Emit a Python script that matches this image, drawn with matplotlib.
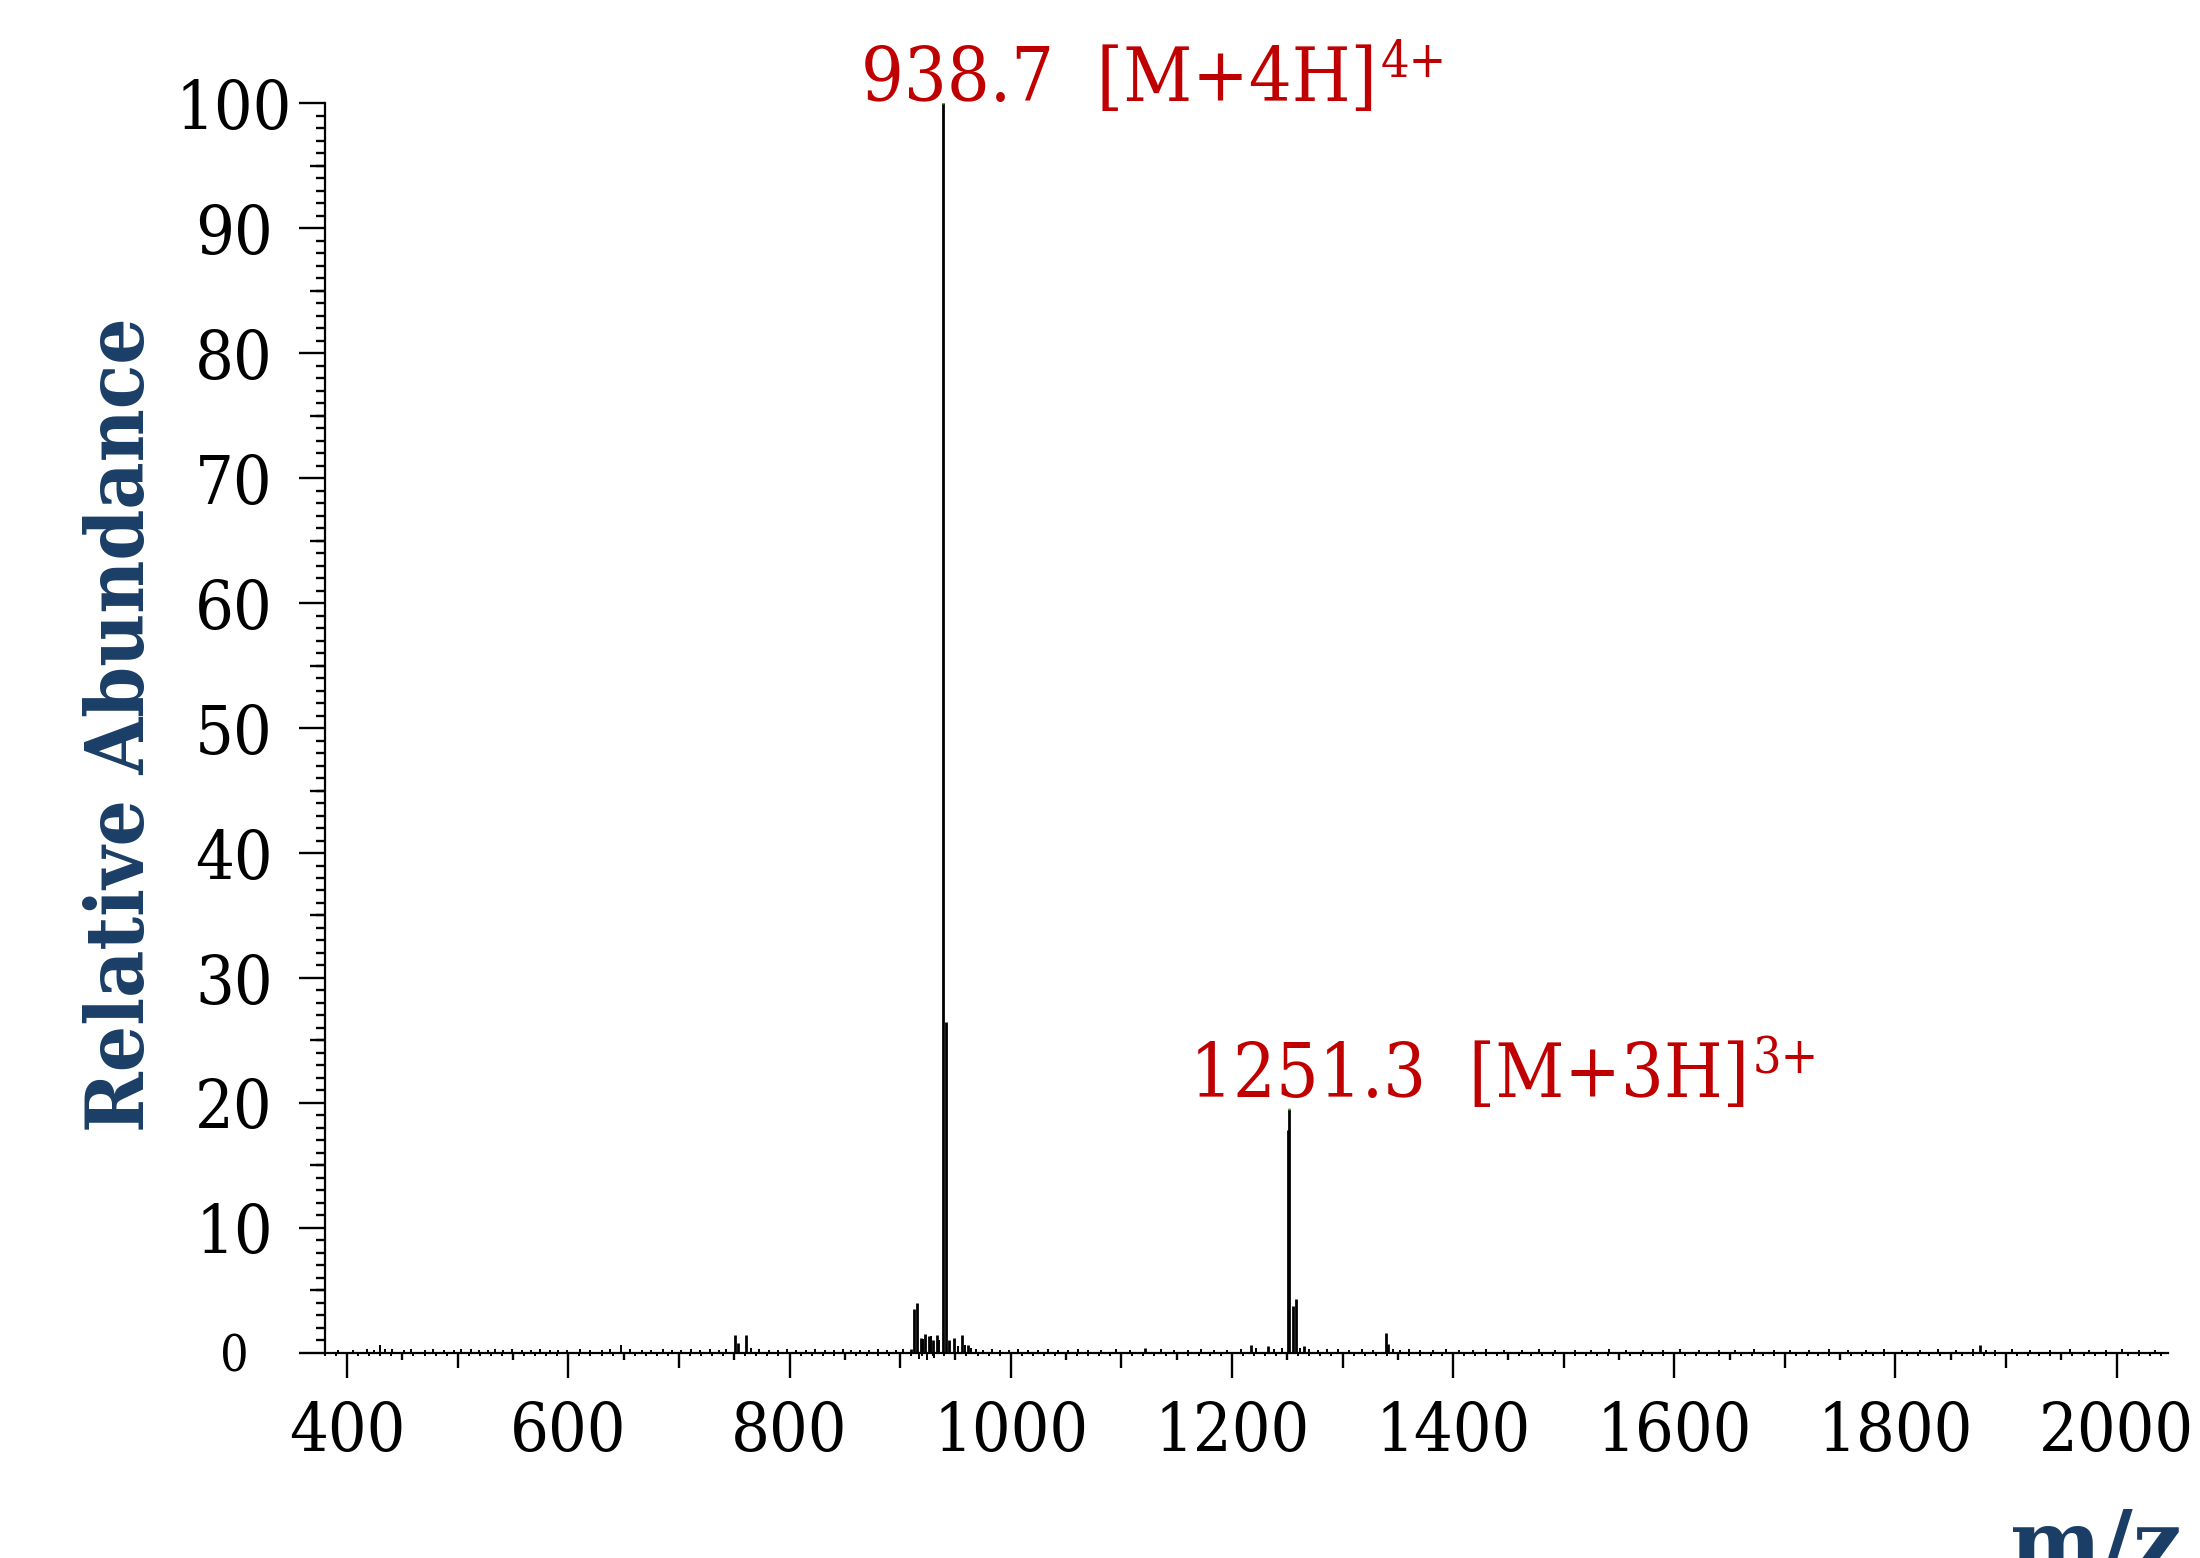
import matplotlib
matplotlib.use('Agg')
import matplotlib.pyplot as plt

plt.rcParams['font.family'] = ['DejaVu Serif', 'DejaVu Sans']
plt.rcParams['font.stretch'] = 'condensed'

# main peaks (m/z, relative abundance)
peak_mz = [750.5, 753.0, 760.3, 909.8, 912.4, 915.3, 919.0, 922.5, 926.0, 929.5,
           933.0, 938.7, 941.4, 944.0, 949.0, 956.2, 961.0, 1121.8, 1217.0, 1233.0,
           1250.8, 1251.3, 1255.1, 1257.8, 1265.0, 1339.3, 1341.5, 1876.5]
peak_int = [1.4, 0.8, 1.4, 0.3, 3.5, 4.0, 1.2, 1.5, 1.3, 1.0,
            1.4, 100.0, 26.5, 1.0, 1.2, 1.4, 0.6, 0.4, 0.6, 0.5,
            17.8, 19.5, 3.7, 4.3, 0.5, 1.6, 0.7, 0.6]

# baseline noise
noise_mz = [392, 405, 418, 424, 429.6, 434, 441, 451, 458, 470, 478, 488, 497, 503,
            512, 519, 527, 534, 541, 549, 558, 566, 574, 583, 591, 599, 611, 620,
            630, 638, 648, 656, 667, 675, 686, 694, 702, 711, 719, 728, 736, 743,
            765, 772, 781, 790, 798, 806, 815, 823, 832, 840, 848, 856, 864, 872,
            880, 888, 896, 903, 917.5, 920.5, 924.0, 927.5, 931.0, 935.5, 952, 958.5,
            964, 969, 975, 983, 990, 998, 1007, 1016, 1025, 1034, 1043, 1052, 1061,
            1070, 1082, 1095, 1108, 1136, 1148, 1160, 1172, 1184, 1196, 1208, 1222,
            1238, 1245, 1262, 1270, 1278, 1286, 1296, 1306, 1318, 1328, 1346, 1352,
            1360, 1370, 1382, 1394, 1405, 1418, 1430, 1446, 1462, 1478, 1492, 1510,
            1525, 1541, 1556, 1572, 1590, 1605, 1622, 1640, 1655, 1672, 1690, 1705,
            1722, 1740, 1757, 1773, 1790, 1806, 1822, 1838, 1855, 1870, 1882, 1890,
            1905, 1922, 1940, 1958, 1975, 1990, 2005, 2020, 2035]
noise_int = [0.2, 0.2, 0.3, 0.2, 0.6, 0.3, 0.3, 0.2, 0.3, 0.2, 0.3, 0.2, 0.2, 0.3,
             0.3, 0.2, 0.2, 0.3, 0.2, 0.3, 0.2, 0.2, 0.3, 0.2, 0.2, 0.2, 0.3, 0.2,
             0.2, 0.3, 0.6, 0.3, 0.2, 0.2, 0.3, 0.2, 0.2, 0.3, 0.2, 0.3, 0.2, 0.3,
             0.4, 0.3, 0.2, 0.2, 0.3, 0.2, 0.2, 0.3, 0.2, 0.2, 0.3, 0.2, 0.2, 0.2,
             0.3, 0.2, 0.2, 0.3, -0.5, 1.1, -0.6, 1.3, -0.4, 1.0, 0.5, 0.6,
             0.4, 0.3, 0.2, 0.3, 0.2, 0.2, 0.3, 0.2, 0.2, 0.3, 0.2, 0.2, 0.3,
             0.2, 0.2, 0.3, 0.2, 0.3, 0.2, 0.2, 0.3, 0.2, 0.2, 0.3, 0.4,
             0.3, 0.4, 0.4, 0.3, 0.2, 0.3, 0.3, 0.2, 0.3, 0.2, 0.3, 0.2,
             0.3, 0.2, 0.2, 0.3, 0.2, 0.2, 0.3, 0.2, 0.2, 0.3, 0.2, 0.2,
             0.2, 0.3, 0.2, 0.2, 0.2, 0.3, 0.2, 0.2, 0.2, 0.3, 0.2, 0.2,
             0.2, 0.3, 0.2, 0.2, 0.3, 0.2, 0.2, 0.3, 0.2, 0.3, 0.2, 0.2,
             0.3, 0.2, 0.2, 0.3, 0.2, 0.2, 0.3, 0.2, 0.2]

# labelled peaks
label_mz = [938.7, 1251.3]
label_int = [100.0, 19.5]
label_txt = ['938.7  [M+4H]', '1251.3  [M+3H]']
label_sup = ['4+', '3+']
label_dx = [-59, -71]   # points
label_dy = [2, 8.5]

xticks = [400, 600, 800, 1000, 1200, 1400, 1600, 1800, 2000]
yticks = [0, 10, 20, 30, 40, 50, 60, 70, 80, 90, 100]

red = '#c00000'
blue = '#1a3e66'

fig = plt.figure(figsize=(22, 15.58), dpi=100)
ax = fig.add_axes([0.14773, 0.13177, 0.83773, 0.8018])

ax.vlines(peak_mz, 0, peak_int, color='k', lw=2.0, clip_on=False)
ax.vlines(noise_mz, 0, noise_int, color='k', lw=1.4, clip_on=False)
ax.plot(label_mz, label_int, ls='none', marker='s', ms=1.5, color='#22bb22', mec='none')

for m, h, t, s, dx, dy in zip(label_mz, label_int, label_txt, label_sup, label_dx, label_dy):
    main = ax.annotate(t, xy=(m, h), xytext=(dx, dy),
                       textcoords='offset points', ha='left', va='baseline',
                       color=red, fontsize=54)
    ax.annotate(s, xy=(1, 1), xycoords=main, xytext=(2.5, 4),
                textcoords='offset points', ha='left', va='top',
                color=red, fontsize=36)

ax.set_xlim(380.4, 2046.4)
ax.set_ylim(0, 100)

for s in ['top', 'right']:
    ax.spines[s].set_visible(False)
for s in ['left', 'bottom']:
    ax.spines[s].set_linewidth(1.6)

ax.set_xticks(xticks)
ax.set_xticks(range(380, 2050, 10), minor=True)
ax.set_yticks(yticks)
ax.set_yticks(range(0, 101), minor=True)
ax.tick_params(axis='x', which='major', length=18, width=1.7, pad=16, labelsize=49)
ax.tick_params(axis='x', which='minor', length=2.5, width=1.4)
ax.tick_params(axis='y', which='major', length=18.7, width=1.7, pad=46.8, labelsize=49)
ax.tick_params(axis='y', which='minor', length=6.5, width=1.7)
plt.setp(ax.get_yticklabels(), ha='center')
ax.get_yticklabels()[0].set_fontsize(36)

# extra tick levels
sx1 = ax.secondary_xaxis('bottom')
sx1.set_xticks([500, 700, 900, 1100, 1300, 1500, 1700, 1900])
sx1.tick_params(length=10.8, width=1.7, labelbottom=False)
sx2 = ax.secondary_xaxis('bottom')
sx2.set_xticks([450, 550, 650, 750, 850, 950, 1050, 1150, 1250, 1350, 1450, 1550,
                1650, 1750, 1850, 1950])
sx2.tick_params(length=5, width=1.7, labelbottom=False)
sy1 = ax.secondary_yaxis('left')
sy1.set_yticks([5, 15, 25, 35, 45, 55, 65, 75, 85, 95])
sy1.tick_params(length=10.8, width=1.7, labelleft=False)
for sec in [sx1, sx2, sy1]:
    for sp in sec.spines.values():
        sp.set_visible(False)
    sec.minorticks_off()

fig.text(0.0555, 0.5347, 'Relative Abundance', rotation=90, ha='center', va='center',
         color=blue, fontsize=58.5, fontweight='bold')
fig.text(0.9918, -0.009, 'm/z', ha='right', va='baseline', color=blue,
         fontsize=62, fontweight='bold', fontstretch='normal')

fig.savefig('out.png', dpi=100)
